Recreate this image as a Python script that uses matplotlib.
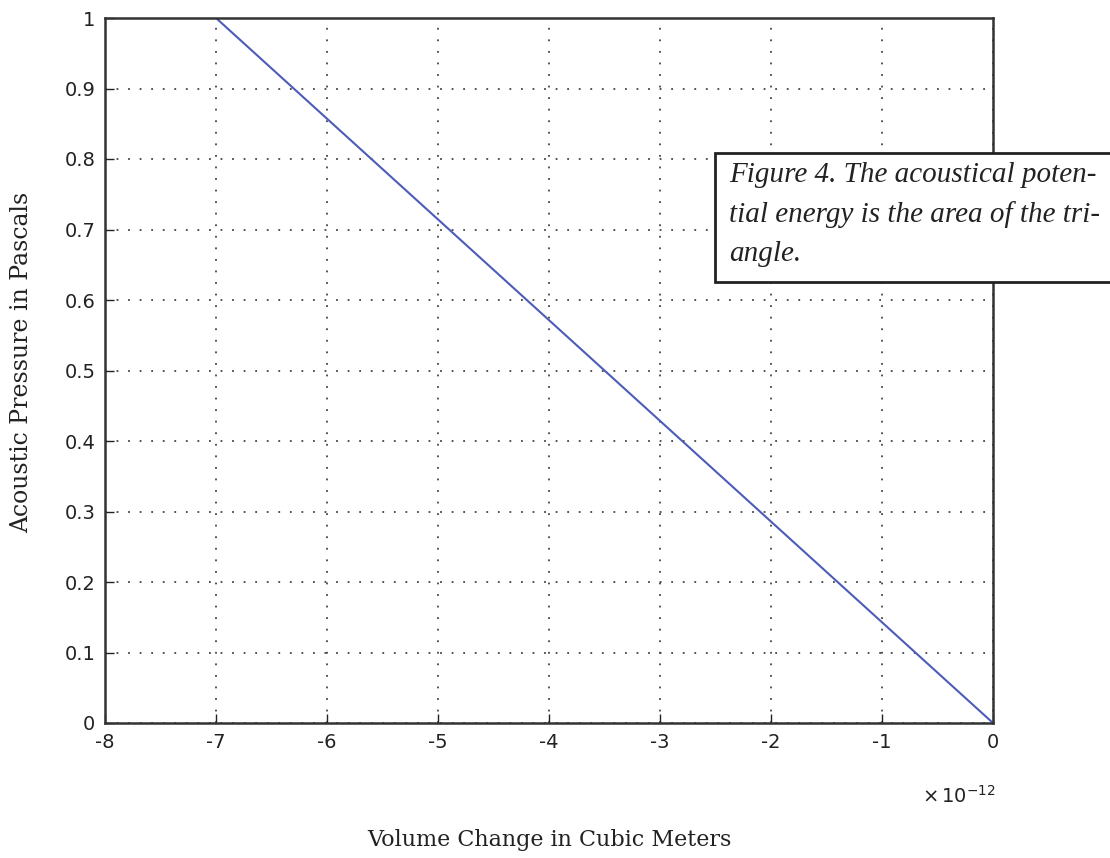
import numpy as np
import matplotlib
matplotlib.use("Agg")
from matplotlib import pyplot as plt
from matplotlib.patches import Rectangle

# data
volume = [-7e-12, 0.0]
pressure = [1.0, 0.0]
xticks = [-8, -7, -6, -5, -4, -3, -2, -1, 0]
yticks = [0, 0.1, 0.2, 0.3, 0.4, 0.5, 0.6, 0.7, 0.8, 0.9, 1]
caption = "Figure 4. The acoustical poten-\ntial energy is the area of the tri-\nangle."

fig = plt.figure(figsize=(11.1, 8.58), dpi=100)
ax = fig.add_axes([105/1110, 1-723/858, 888/1110, 705/858])

ax.plot(volume, pressure, color="#4c5cb8", lw=1.5)
ax.set_xlim(-8e-12, 0)
ax.set_ylim(0, 1)
ax.set_xticks([t*1e-12 for t in xticks])
ax.set_xticklabels([str(t) for t in xticks])
ax.set_yticks(yticks)
ax.set_yticklabels([("%g" % t) for t in yticks])
ax.tick_params(direction="in", length=6.5, labelsize=14, colors="#222222",
               pad=7, width=1)
for lab in ax.get_xticklabels() + ax.get_yticklabels():
    lab.set_family("DejaVu Sans")
ax.grid(True, linestyle=(0, (1, 5.4)), color="#444444", lw=1.3)
for s in ax.spines.values():
    s.set_linewidth(1.8)
    s.set_color("#333333")

fig.text(996/1110, 1-803/858, r"$\times\,10^{-12}$", ha="right", va="baseline",
         fontsize=14, color="#222222")
fig.text(549/1110, 1-840/858, "Volume Change in Cubic Meters", ha="center",
         va="center", fontsize=16, family="DejaVu Serif", color="#222222")
fig.text(22/1110, 1-362/858, "Acoustic Pressure in Pascals", ha="center",
         va="center", rotation=90, fontsize=17, family="DejaVu Serif",
         color="#222222")

# caption box over the right edge
box = Rectangle((715/1110, 1-282/858), 400/1110, 129/858,
                transform=fig.transFigure, facecolor="white",
                edgecolor="#222222", lw=2, zorder=5)
fig.patches.append(box)
fig.text(729/1110, 1-162/858, caption, ha="left", va="top", fontsize=21,
         family="Liberation Serif", style="italic", color="#222222",
         linespacing=1.64, zorder=6)

plt.savefig("out.png", dpi=100)
